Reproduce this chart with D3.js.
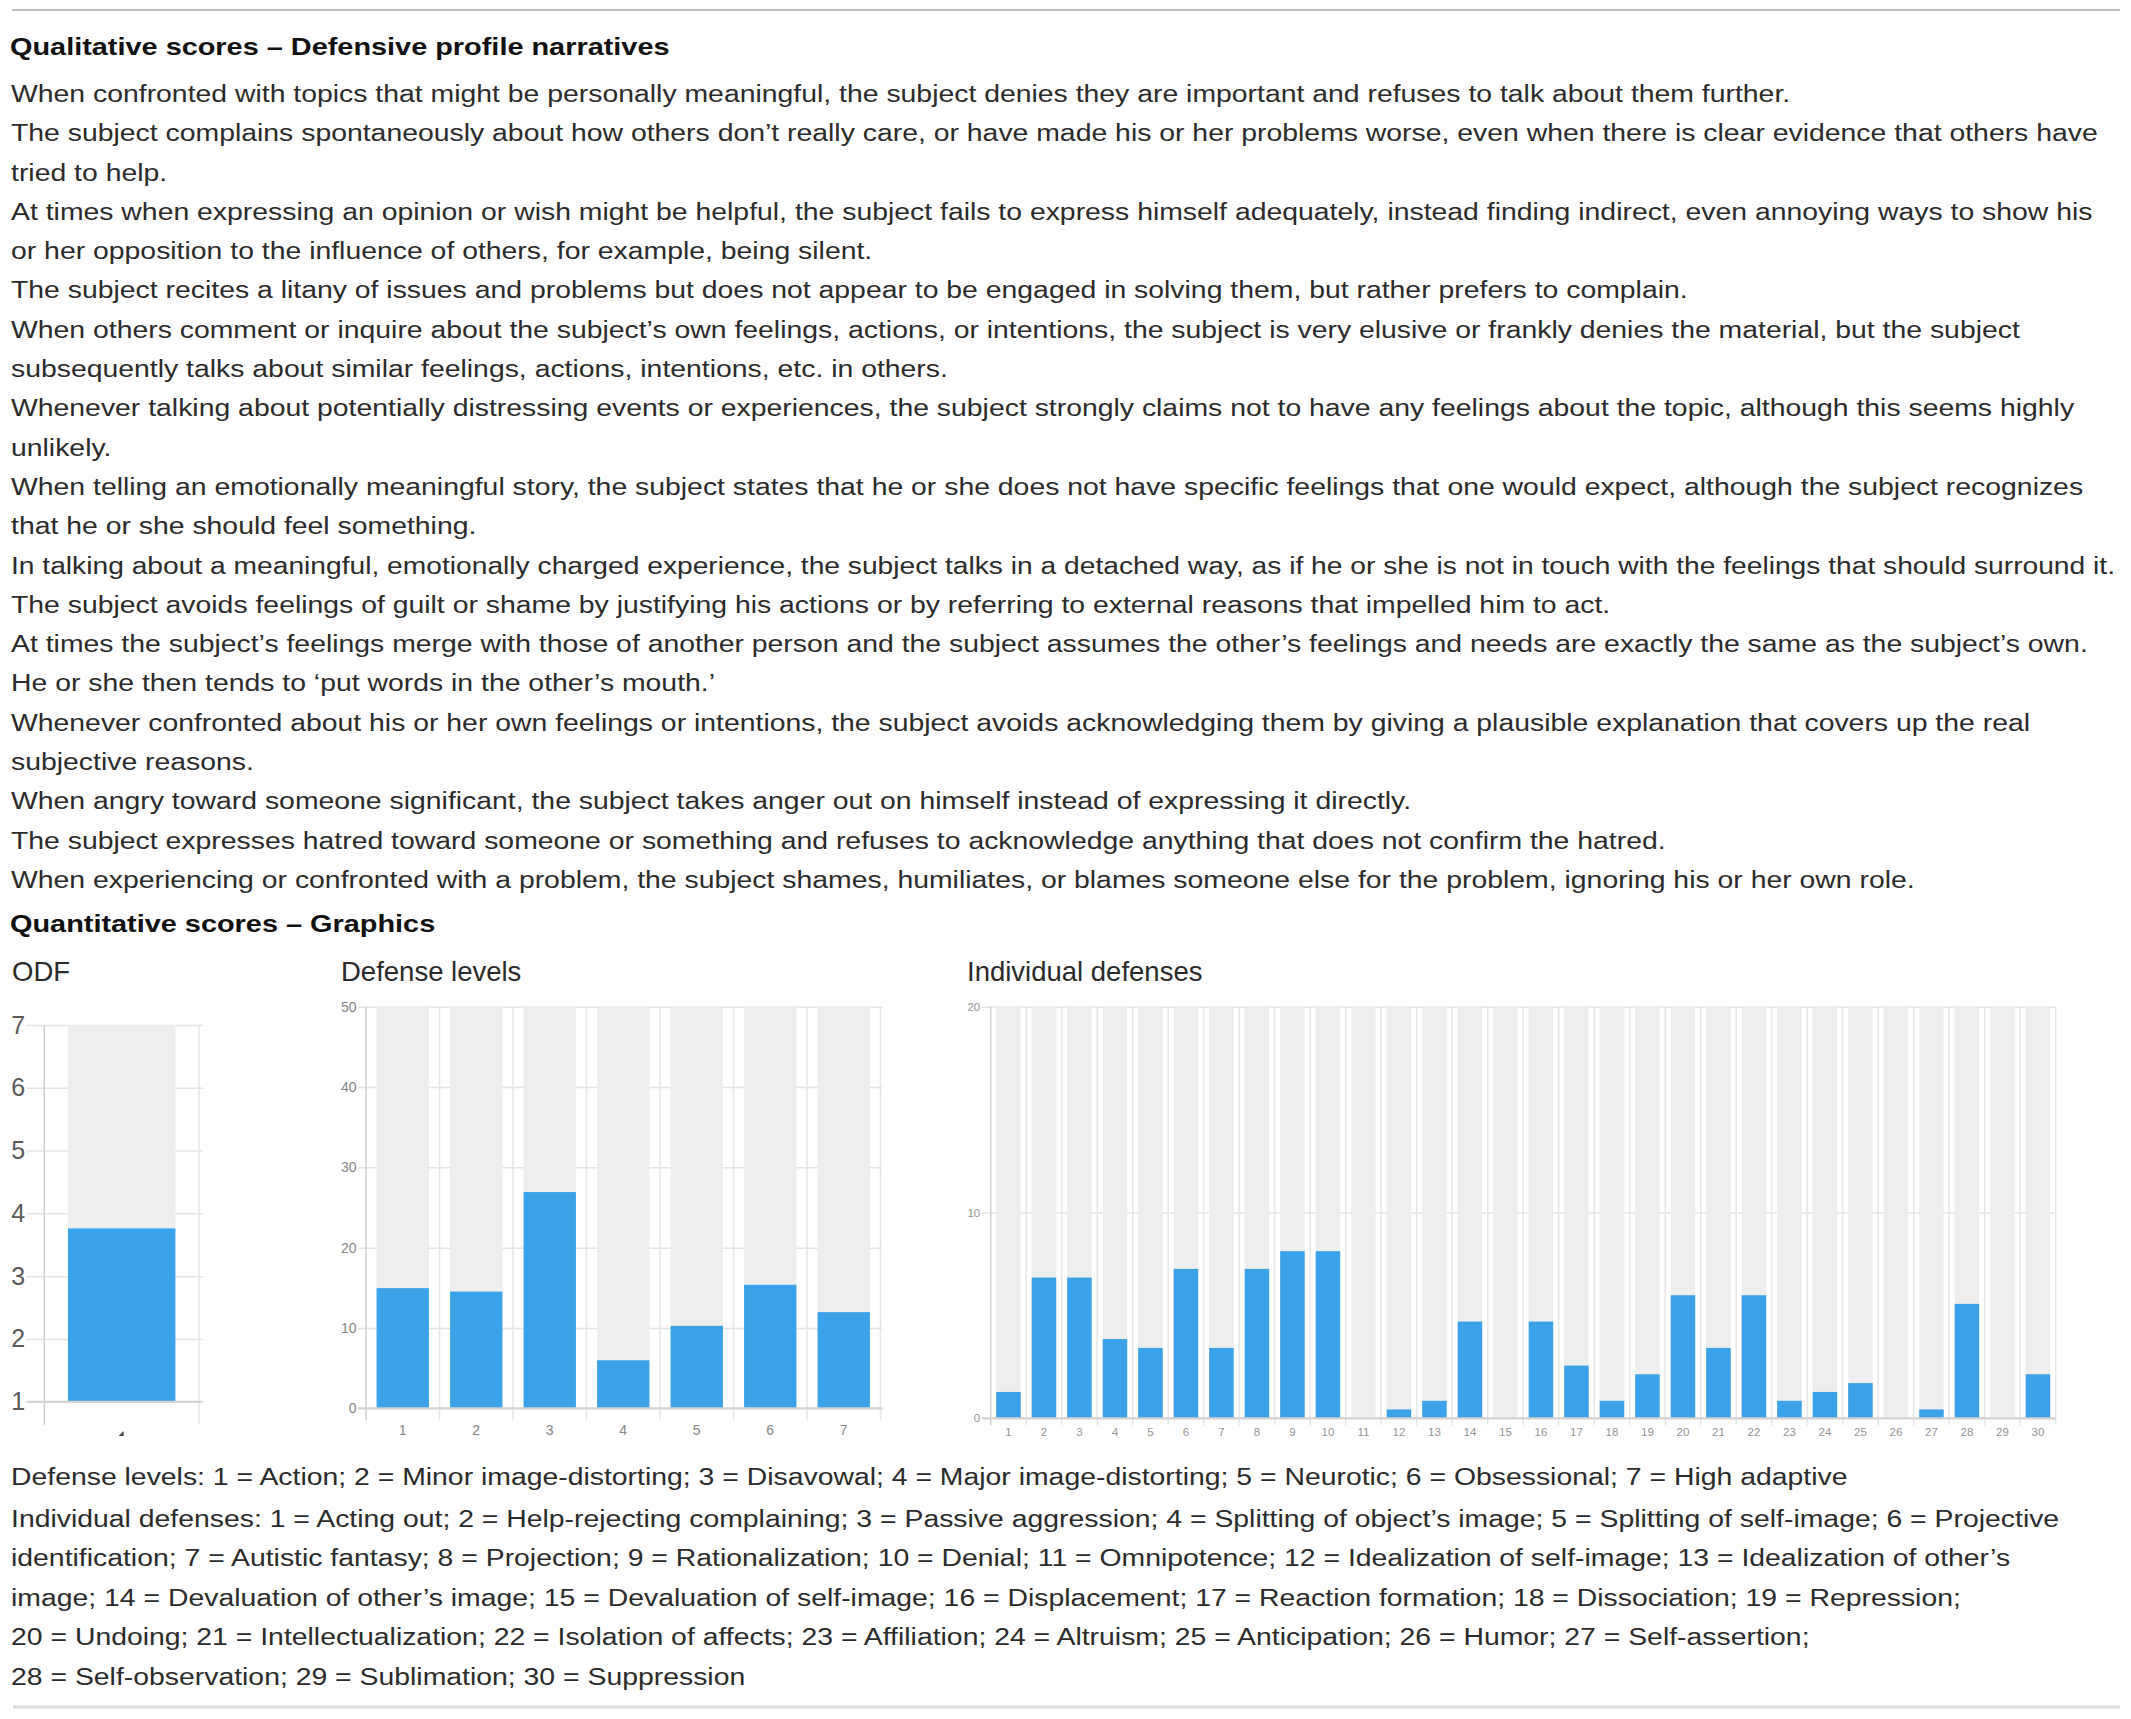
<!DOCTYPE html>
<html>
<head>
<meta charset="utf-8">
<script src="https://cdn.jsdelivr.net/npm/d3@7"></script>
<style>
  body { margin: 0; background: #fff; }
  text { font-family: "Liberation Sans", Arial, Helvetica, sans-serif; }
</style>
</head>
<body>
<script>
// ---- data ----
const headings = [
  "Qualitative scores \u2013 Defensive profile narratives",
  "Quantitative scores \u2013 Graphics"
];

const narrativeLines = [
  "When confronted with topics that might be personally meaningful, the subject denies they are important and refuses to talk about them further.",
  "The subject complains spontaneously about how others don\u2019t really care, or have made his or her problems worse, even when there is clear evidence that others have",
  "tried to help.",
  "At times when expressing an opinion or wish might be helpful, the subject fails to express himself adequately, instead finding indirect, even annoying ways to show his",
  "or her opposition to the influence of others, for example, being silent.",
  "The subject recites a litany of issues and problems but does not appear to be engaged in solving them, but rather prefers to complain.",
  "When others comment or inquire about the subject\u2019s own feelings, actions, or intentions, the subject is very elusive or frankly denies the material, but the subject",
  "subsequently talks about similar feelings, actions, intentions, etc. in others.",
  "Whenever talking about potentially distressing events or experiences, the subject strongly claims not to have any feelings about the topic, although this seems highly",
  "unlikely.",
  "When telling an emotionally meaningful story, the subject states that he or she does not have specific feelings that one would expect, although the subject recognizes",
  "that he or she should feel something.",
  "In talking about a meaningful, emotionally charged experience, the subject talks in a detached way, as if he or she is not in touch with the feelings that should surround it.",
  "The subject avoids feelings of guilt or shame by justifying his actions or by referring to external reasons that impelled him to act.",
  "At times the subject\u2019s feelings merge with those of another person and the subject assumes the other\u2019s feelings and needs are exactly the same as the subject\u2019s own.",
  "He or she then tends to \u2018put words in the other\u2019s mouth.\u2019",
  "Whenever confronted about his or her own feelings or intentions, the subject avoids acknowledging them by giving a plausible explanation that covers up the real",
  "subjective reasons.",
  "When angry toward someone significant, the subject takes anger out on himself instead of expressing it directly.",
  "The subject expresses hatred toward someone or something and refuses to acknowledge anything that does not confirm the hatred.",
  "When experiencing or confronted with a problem, the subject shames, humiliates, or blames someone else for the problem, ignoring his or her own role."
];

const levelLegend = "Defense levels: 1 = Action; 2 = Minor image-distorting; 3 = Disavowal; 4 = Major image-distorting; 5 = Neurotic; 6 = Obsessional; 7 = High adaptive";
const defenseLegendLines = [
  "Individual defenses: 1 = Acting out; 2 = Help-rejecting complaining; 3 = Passive aggression; 4 = Splitting of object\u2019s image; 5 = Splitting of self-image; 6 = Projective",
  "identification; 7 = Autistic fantasy; 8 = Projection; 9 = Rationalization; 10 = Denial; 11 = Omnipotence; 12 = Idealization of self-image; 13 = Idealization of other\u2019s",
  "image; 14 = Devaluation of other\u2019s image; 15 = Devaluation of self-image; 16 = Displacement; 17 = Reaction formation; 18 = Dissociation; 19 = Repression;",
  "20 = Undoing; 21 = Intellectualization; 22 = Isolation of affects; 23 = Affiliation; 24 = Altruism; 25 = Anticipation; 26 = Humor; 27 = Self-assertion;",
  "28 = Self-observation; 29 = Sublimation; 30 = Suppression"
];

const chartTitles = ["ODF", "Defense levels", "Individual defenses"];

const odfCategories = [""];
const odfValues = [3.76];
const odfTicks = [1, 2, 3, 4, 5, 6, 7];

const levelCategories = ["1", "2", "3", "4", "5", "6", "7"];
const levelValues = [14.96, 14.53, 26.92, 5.98, 10.26, 15.38, 11.97];
const levelTicks = [0, 10, 20, 30, 40, 50];

const defenseCategories = ["1", "2", "3", "4", "5", "6", "7", "8", "9", "10",
  "11", "12", "13", "14", "15", "16", "17", "18", "19", "20",
  "21", "22", "23", "24", "25", "26", "27", "28", "29", "30"];
const defenseValues = [1.28, 6.84, 6.84, 3.85, 3.42, 7.26, 3.42, 7.26, 8.12, 8.12,
  0, 0.43, 0.85, 4.70, 0, 4.70, 2.56, 0.85, 2.14, 5.98,
  3.42, 5.98, 0.85, 1.28, 1.71, 0, 0.43, 5.56, 0, 2.14];
const defenseTicks = [0, 10, 20];

// ---- page ----
const width = 2131;
const height = 1719;
const blue = "#39a2e8";

const svg = d3.select("body").append("svg")
  .attr("width", width)
  .attr("height", height)
  .attr("viewBox", [0, 0, width, height]);

// rules top and bottom
svg.append("line").attr("x1", 12).attr("x2", 2120).attr("y1", 10).attr("y2", 10)
  .attr("stroke", "#bdbdbd").attr("stroke-width", 2);
svg.append("line").attr("x1", 13).attr("x2", 2120).attr("y1", 1707).attr("y2", 1707)
  .attr("stroke", "#dcdcdc").attr("stroke-width", 3);

// a block of lines, stretched horizontally so the first line fills targetWidth;
// lines that would run past maxWidth get squeezed back in
function textBlock(lines, x, baselines, size, weight, color, targetWidth, maxWidth) {
  const g = svg.append("g");
  const texts = g.selectAll("text")
    .data(lines)
    .join("text")
    .attr("x", 0)
    .attr("y", (d, i) => baselines[i])
    .attr("font-size", size)
    .attr("font-weight", weight)
    .attr("fill", color)
    .text(d => d);
  const w = g.select("text").node().getComputedTextLength();
  const sx = targetWidth / w;
  g.attr("transform", `translate(${x},0) scale(${sx},1)`);
  if (maxWidth) {
    texts.each(function () {
      const len = this.getComputedTextLength();
      if (len * sx > maxWidth) {
        d3.select(this)
          .attr("textLength", maxWidth / sx)
          .attr("lengthAdjust", "spacingAndGlyphs");
      }
    });
  }
  return sx;
}

textBlock(headings, 10, [55, 932], 24.5, "bold", "#111", 660);
textBlock(narrativeLines, 11, narrativeLines.map((d, i) => 102 + i * 39.3),
  23.5, "normal", "#2b2b2b", 1780, 2104);
textBlock([levelLegend].concat(defenseLegendLines), 11,
  [1485].concat(defenseLegendLines.map((d, i) => 1527 + i * 39.5)),
  23.5, "normal", "#2b2b2b", 1837, 2104);

// chart titles
svg.selectAll(".chart-title")
  .data(chartTitles)
  .join("text")
  .attr("class", "chart-title")
  .attr("x", (d, i) => [12, 341, 967][i])
  .attr("y", 981)
  .attr("font-size", 27.5)
  .attr("fill", "#2a2a2a")
  .text(d => d);

function barChart(o) {
  const x = d3.scaleBand()
    .domain(o.categories)
    .range([o.x0, o.x1])
    .paddingInner(o.padInner)
    .paddingOuter(o.padOuter);
  const y = d3.scaleLinear().domain(o.domain).range([o.yBottom, o.yTop]);
  const g = svg.append("g");

  // horizontal grid with tick labels
  const yAxis = g.append("g")
    .attr("transform", `translate(${o.x0 - o.tickOut},0)`)
    .call(d3.axisLeft(y)
      .tickValues(o.ticks)
      .tickSize(-(o.x1 - o.x0 + o.tickOut + o.tickRight))
      .tickPadding(o.labelPad)
      .tickFormat(d3.format("d")));
  yAxis.select(".domain").remove();
  yAxis.selectAll(".tick line").attr("stroke", "#e4e4e4").attr("stroke-width", 1.5);
  yAxis.selectAll(".tick text")
    .attr("font-size", o.yFont)
    .attr("fill", o.yColor)
    .attr("font-family", "Liberation Sans, Arial, sans-serif");

  // vertical lines at band boundaries
  const gap = x.step() - x.bandwidth();
  const bounds = [o.x0]
    .concat(o.categories.slice(1).map(c => x(c) - gap / 2))
    .concat([o.x1]);
  g.append("g")
    .selectAll("line")
    .data(bounds)
    .join("line")
    .attr("x1", d => d).attr("x2", d => d)
    .attr("y1", o.yTop).attr("y2", o.yBottom + o.below)
    .attr("stroke", (d, i) => i === 0 ? "#cfcfcf" : "#e6e6e6")
    .attr("stroke-width", 1.5);

  // background columns
  g.append("g")
    .selectAll("rect")
    .data(o.categories)
    .join("rect")
    .attr("x", d => x(d))
    .attr("y", o.yTop)
    .attr("width", x.bandwidth())
    .attr("height", o.yBottom - o.yTop)
    .attr("fill", "#eeeeee");

  // bars
  g.append("g")
    .selectAll("rect")
    .data(o.values)
    .join("rect")
    .attr("x", (d, i) => x(o.categories[i]))
    .attr("y", d => y(Math.max(d, o.domain[0])))
    .attr("width", x.bandwidth())
    .attr("height", d => o.yBottom - y(Math.max(d, o.domain[0])))
    .attr("fill", blue);

  // baseline
  g.append("line")
    .attr("x1", o.x0 - o.tickOut).attr("x2", o.x1 + o.tickRight)
    .attr("y1", o.yBottom).attr("y2", o.yBottom)
    .attr("stroke", "#d2d2d2").attr("stroke-width", 2);

  // category labels
  if (o.xFont) {
    const xAxis = g.append("g")
      .attr("transform", `translate(0,${o.yBottom + o.xLabelDy})`)
      .call(d3.axisBottom(x).tickSize(0).tickPadding(0));
    xAxis.select(".domain").remove();
    xAxis.selectAll(".tick text")
      .attr("font-size", o.xFont)
      .attr("fill", o.yColor)
      .attr("dy", "0.35em")
      .attr("font-family", "Liberation Sans, Arial, sans-serif");
  }
  return { g, x, y };
}

const odf = barChart({
  categories: odfCategories, values: odfValues, domain: [1, 7], ticks: odfTicks,
  x0: 44.3, x1: 199, yTop: 1025, yBottom: 1401.7,
  padInner: 0.18, padOuter: 0.18,
  tickOut: 17.6, tickRight: 4, labelPad: 1.5, below: 23,
  yFont: 25, yColor: "#5a5a5a"
});
// the small mark under the ODF column
odf.g.append("g")
  .selectAll("path")
  .data(odfCategories)
  .join("path")
  .attr("d", d => {
    const cx = odf.x(d) + odf.x.bandwidth() / 2;
    return `M${cx + 2},1431 L${cx + 2},1436 L${cx - 3},1436 Z`;
  })
  .attr("fill", "#444");

barChart({
  categories: levelCategories, values: levelValues, domain: [0, 50], ticks: levelTicks,
  x0: 366, x1: 880.5, yTop: 1006.7, yBottom: 1408.3,
  padInner: 0.288, padOuter: 0.144,
  tickOut: 8, tickRight: 2, labelPad: 1.5, below: 12,
  yFont: 14, yColor: "#858585", xFont: 14, xLabelDy: 22
});

barChart({
  categories: defenseCategories, values: defenseValues, domain: [0, 20], ticks: defenseTicks,
  x0: 990.7, x1: 2055.7, yTop: 1006.7, yBottom: 1418.3,
  padInner: 0.31, padOuter: 0.155,
  tickOut: 9, tickRight: 0, labelPad: 1.5, below: 7,
  yFont: 11.5, yColor: "#959595", xFont: 11.5, xLabelDy: 13.5
});
</script>
</body>
</html>
